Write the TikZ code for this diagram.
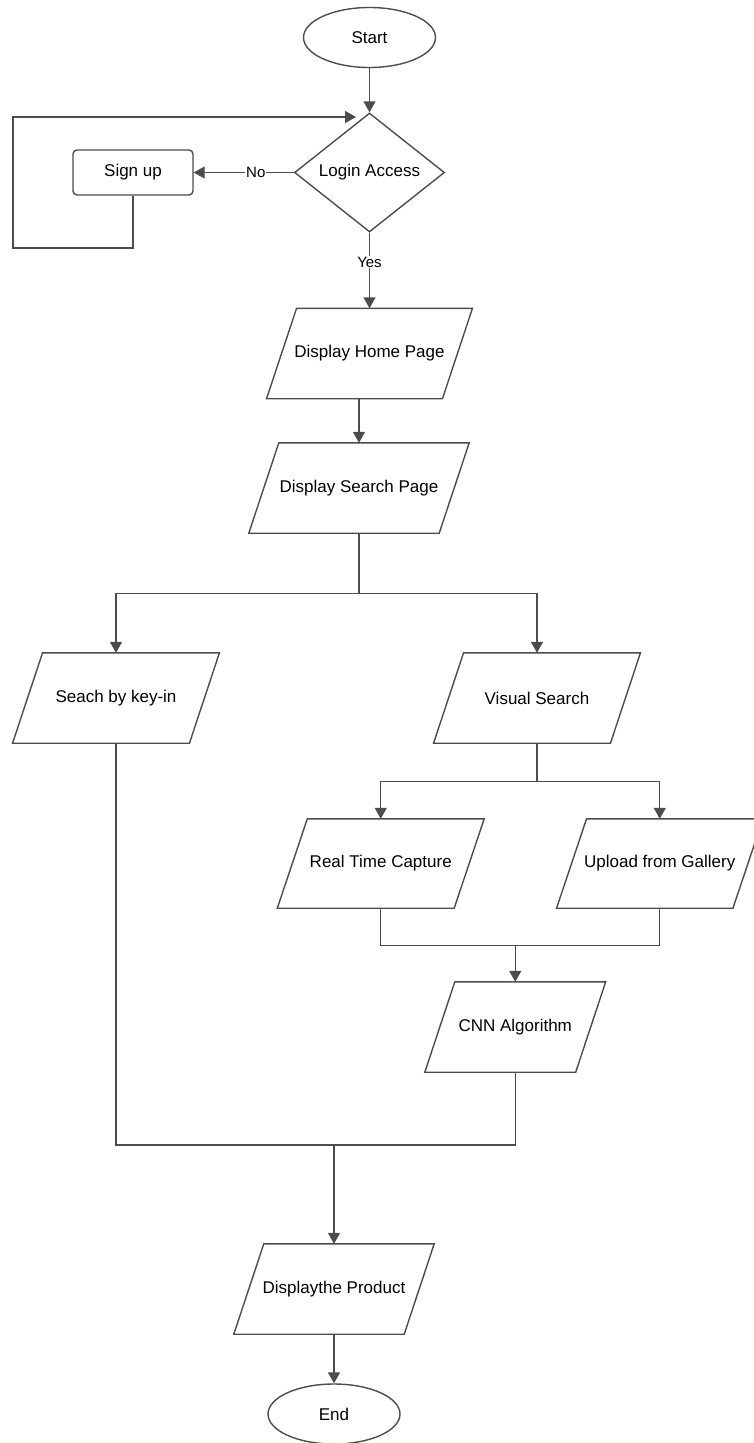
\documentclass[tikz,border=0pt]{standalone}
\usepackage{fontspec}
\setmainfont{Liberation Sans}
\usetikzlibrary{shapes.geometric,arrows.meta,calc}
\begin{document}
\begin{tikzpicture}[x=1pt,y=-1pt,
  font=\fontsize{17}{20}\selectfont,
  line/.style={draw=black!70, line width=1.4pt},
  arrow/.style={line, -{Triangle[length=11pt,width=12pt]}},
  terminal/.style={ellipse, draw=black!70, line width=1.4pt, minimum width=132pt, minimum height=60pt, inner sep=0pt},
  io/.style={rectangle, minimum width=#1, minimum height=90pt, inner sep=0pt},
  process/.style={rectangle, rounded corners=4pt, draw=black!70, line width=1.4pt, minimum width=120pt, minimum height=45pt, inner sep=0pt},
  decision/.style={diamond, draw=black!70, line width=1.4pt, aspect=1.26, minimum width=150pt, minimum height=119pt, inner sep=0pt},
  tag/.style={fill=white, inner sep=1pt, font=\fontsize{15}{17}\selectfont}]
\useasboundingbox (0,0) rectangle (753,1443);

% terminals and decision
\node[terminal] (start) at (369.5,37.5) {Start};
\node[decision] (login) at (369.5,172.5) {Login Access};
\node[process] (signup) at (133,172.5) {Sign up};
\node[terminal] (end) at (334,1414) {End};

% input/output steps (parallelogram outlines drawn below)
\node[io=175.5pt] (home)    at (369.5,353.5) {Display Home Page};
\node[io=190pt]   (search)  at (359,488)     {Display Search Page};
\node[io=176.5pt] (keyin)   at (116,698)     {Seach by key-in};
\node[io=176.5pt] (visual)  at (537,698)     {Visual Search};
\node[io=176.5pt, minimum height=89pt] (capture) at (380.75,863.5) {Real Time Capture};
\node[io=176pt, minimum height=89pt]   (upload)  at (659.75,863.5) {Upload from Gallery};
\node[io=150.5pt] (cnn)     at (515.25,1027) {CNN Algorithm};
\node[io=170pt]   (product) at (334,1289)    {Displaythe Product};

\foreach \n in {home,search,keyin,visual,capture,upload,cnn,product}
  \draw[line] ([xshift=15pt]\n.north west) -- ([xshift=15pt]\n.north east)
    -- ([xshift=-15pt]\n.south east) -- ([xshift=-15pt]\n.south west) -- cycle;

% login loop
\draw[arrow] (start.south) -- (login.north);
\draw[arrow] (login.west) -- node[tag, pos=0.38] {No} (signup.east);
\coordinate (loopin) at (356,117);
\draw[arrow] (signup.south) -- (133,248) -- (13,248) -- (13,117) -- (loopin);
\draw[arrow] (login.south) -- node[tag, pos=0.39] {Yes} (home.north);

% main flow
\draw[arrow] (search.north |- home.south) -- (search.north);
\draw[line] (search.south) -- ++(0,60) coordinate (s1);
\draw[arrow] (s1) -| (keyin.north);
\draw[arrow] (s1) -| (visual.north);

\draw[line] (visual.south) -- ++(0,38) coordinate (s2);
\draw[arrow] (s2) -| (capture.north);
\draw[arrow] (s2) -| (upload.north);

\draw[line] (capture.south) -- ++(0,37) coordinate (m1) -| (upload.south);
\draw[arrow] (m1 -| cnn.north) -- (cnn.north);

\coordinate (j) at (334,1145);
\draw[line] (keyin.south) |- (cnn.south |- j) -- (cnn.south);
\draw[arrow] (j) -- (product.north);
\draw[arrow] (product.south) -- (end.north);
\end{tikzpicture}
\end{document}
